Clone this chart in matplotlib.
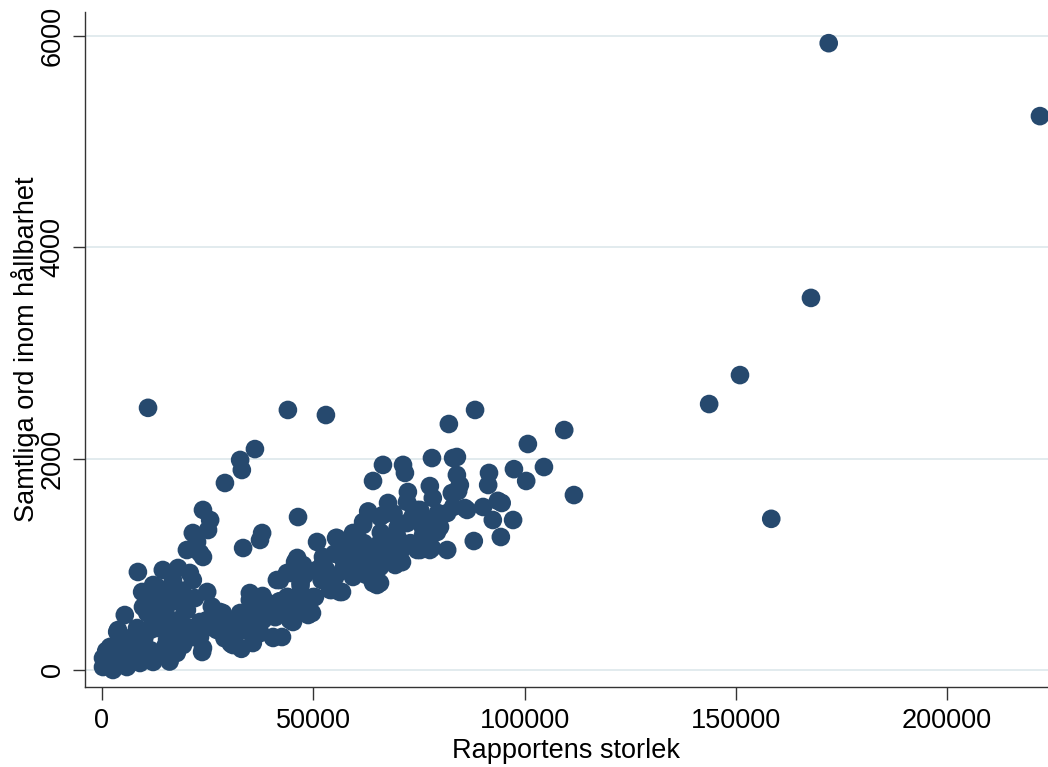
import matplotlib
matplotlib.use("Agg")
import matplotlib.pyplot as plt

# Rapportens storlek (x) vs samtliga ord inom hållbarhet (y)
report_size = [
    # outliers and right part
    172000, 222000, 167800, 151000, 143700, 158400, 10900, 44000, 53000, 88300,
    82100, 109400, 100800, 111700, 104600, 97500, 91600, 100400, 91400, 92500,
    97300, 94400, 88000, 93700, 94600, 85900, 90200, 78100, 83100, 84000,
    84000, 84700, 77600, 82800, 84300, 78300, 83100, 79500, 81700, 75300,
    80000, 76000, 81700, 78100, 75700, 79300,
    # main band
    66500, 71250, 71700, 64150, 72400, 67700, 72200, 74600, 86400, 65800,
    61800, 46400, 72200, 59400, 55600, 50900, 75300, 65800, 68900, 45700,
    52300, 43800, 55200, 64150, 65800, 49950, 46900, 54400, 56800, 42100,
    44000, 48800, 44500, 42600, 58700, 61100, 65100,
    76500, 66500, 61800, 55400, 68200, 76000, 63900, 70500, 74600, 77600,
    52300, 65800, 69400, 57000, 54700, 64100, 59400, 56300, 54000, 50400,
    49700,
    62000, 66000, 70000, 73000, 68000, 64000, 60000, 57000, 53000, 58000,
    71000, 67000, 62500, 60000, 55000, 48000, 51000, 47000, 52000, 45000,
    49000, 43000, 47500, 41000, 70000, 73500, 63000, 69000, 60500, 57500,
    # steep left branch and low cluster
    36200, 32700, 33100, 29100, 37900, 37400, 33400, 23900, 25100, 23900,
    46200, 25600, 21500, 22500, 20100, 23200, 8500, 14400, 18000, 20800,
    16800, 21500, 9500, 13000, 24900, 19600, 11400, 9700, 5400, 13000,
    16100, 11400, 3800, 1900, 1200, 2400, 7300, 9000, 12500, 14900,
    18500, 21500, 23900, 25600, 28600, 27500, 32700, 32000, 38100, 40500,
    35700, 20100, 35000, 41400, 43800, 43300, 12100, 15400, 13700, 10700,
    3600, 8300, 13000, 23200, 5000, 8300, 11400, 15400, 19200, 17700,
    240, 2600, 5900, 9000, 12100, 240, 35000, 44500, 47600, 47000,
    46200, 39300, 36700, 27900, 24900, 23200, 23700, 31000, 35000, 40500,
    45200, 27200,
    4000, 6500, 7000, 10000, 12000, 15000, 17500, 19000, 22000, 16000,
    3000, 1000, 14000, 18500, 20500, 26000, 30000, 30500, 34000, 37500,
    39000, 42000, 38000, 36000, 29000, 33000,
]
sustainability_words = [
    5930, 5240, 3520, 2790, 2516, 1430, 2480, 2460, 2412, 2460,
    2327, 2270, 2138, 1655, 1920, 1900, 1864, 1788, 1750, 1419,
    1419, 1258, 1220, 1600, 1580, 1532, 1542, 2005, 2005, 2015,
    1845, 1750, 1740, 1674, 1693, 1627, 1542, 1485, 1485, 1514,
    1353, 1343, 1135, 1154, 1164, 1305,
    1940, 1940, 1864, 1788, 1684, 1580, 1590, 1514, 1514, 1447,
    1400, 1447, 1390, 1296, 1249, 1211, 1135, 1201, 1040, 1022,
    1069, 918, 880, 823, 823, 690, 728, 757, 738, 851,
    690, 520, 473, 312, 1116, 1012, 804,
    1419, 1466, 1372, 1249, 1249, 1277, 1116, 1107, 1135, 1135,
    1012, 974, 993, 946, 880, 851, 880, 738, 757, 690,
    539,
    1200, 1300, 1250, 1200, 1150, 1050, 1100, 1050, 950, 1000,
    1020, 1100, 900, 950, 1100, 900, 950, 800, 850, 600,
    620, 550, 650, 500, 1350, 1450, 1500, 1480, 1250, 1200,
    2090, 1987, 1892, 1769, 1296, 1230, 1154, 1514, 1324, 1069,
    1060, 1419, 1296, 1211, 1135, 1107, 927, 946, 965, 918,
    851, 851, 738, 785, 738, 587, 690, 596, 520, 539,
    426, 378, 378, 218, 95, 28, 189, 123, 113, 218,
    312, 312, 208, 407, 539, 450, 539, 350, 473, 312,
    255, 567, 662, 851, 690, 567, 804, 738, 615, 539,
    360, 397, 397, 454, 255, 208, 189, 284, 236, 161,
    28, 0, 28, 66, 76, 113, 728, 918, 993, 830,
    596, 634, 587, 549, 473, 312, 170, 236, 360, 303,
    454, 378,
    150, 300, 100, 300, 450, 550, 650, 750, 680, 80,
    60, 180, 680, 480, 400, 600, 450, 250, 420, 350,
    560, 650, 700, 500, 300, 200,
]
x_ticks = [0, 50000, 100000, 150000, 200000]
y_ticks = [0, 2000, 4000, 6000]

plt.rcParams["font.family"] = ["Liberation Sans", "DejaVu Sans"]

fig = plt.figure(figsize=(10.48, 7.67), dpi=100)
ax = fig.add_axes([85 / 1048, 80 / 767, 963 / 1048, 675 / 767])

ax.scatter(report_size, sustainability_words, s=180, color="#26496e",
           edgecolors="none", zorder=3, clip_on=False)

ax.set_xlim(-4020, 223900)
ax.set_ylim(-161, 6225)
ax.set_xticks(x_ticks)
ax.set_yticks(y_ticks)
ax.set_xticklabels([str(t) for t in x_ticks])
ax.set_yticklabels([str(t) for t in y_ticks], rotation=90, va="center")
ax.tick_params(axis="both", labelsize=19.5, length=9, width=1, color="#333333")
ax.tick_params(axis="x", pad=6)
ax.tick_params(axis="y", pad=5)

ax.grid(True, axis="y", color="#e2ebee", linewidth=1.4, zorder=0)
for side in ("top", "right"):
    ax.spines[side].set_visible(False)
for side in ("left", "bottom"):
    ax.spines[side].set_color("#333333")
    ax.spines[side].set_linewidth(1.0)

ax.set_xlabel("Rapportens storlek", fontsize=19.5, labelpad=3)
ax.set_ylabel("Samtliga ord inom hållbarhet", fontsize=19.5, labelpad=0)

fig.savefig("out.png", dpi=100)
